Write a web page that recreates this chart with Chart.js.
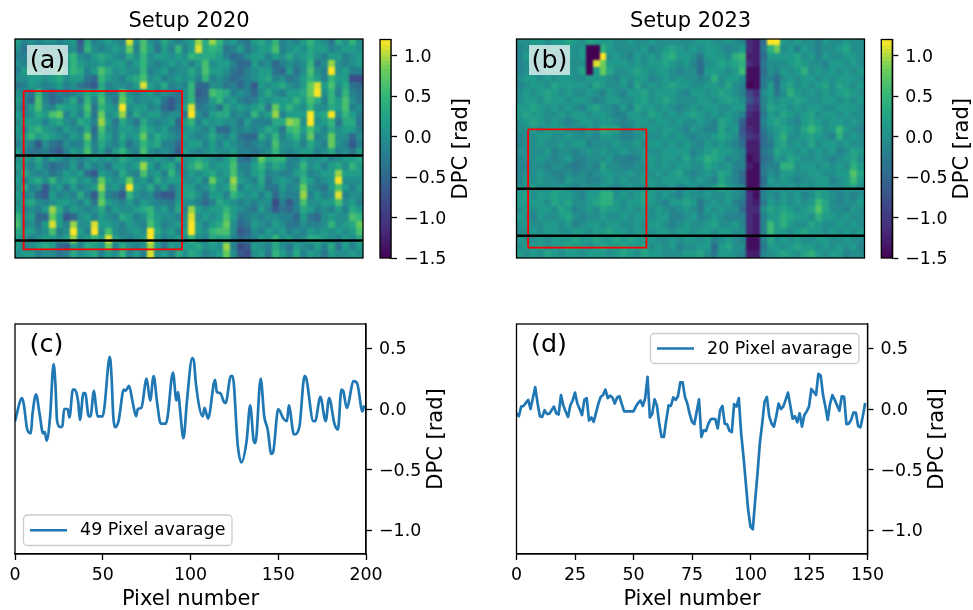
<!DOCTYPE html>
<html>
<head>
<meta charset="utf-8">
<title>Setup 2020 / Setup 2023</title>
<script src="https://cdn.jsdelivr.net/npm/chart.js@4"></script>
<style>
  html, body { margin: 0; padding: 0; background: #fff; }
  body { width: 973px; height: 610px; position: relative; overflow: hidden; }
  canvas { position: absolute; }
</style>
</head>
<body>
<canvas id="heatA" style="left:0;top:0" width="372" height="290"></canvas>
<canvas id="barA" style="left:372px;top:0" width="110" height="290"></canvas>
<canvas id="heatB" style="left:500px;top:0" width="372" height="290"></canvas>
<canvas id="barB" style="left:873px;top:0" width="100" height="290"></canvas>
<canvas id="lineC" style="left:0;top:300px" width="480" height="310"></canvas>
<canvas id="lineD" style="left:500px;top:300px" width="473" height="310"></canvas>
<script>
// ---------- Data ----------
// heat maps: one row per band from top to bottom, coarse readings (see unit below)
const dpcA = [
[1,-1,0,-1,0,0,-1,0,1,-4,2,-1,0,1,0,-1,7,0,4,0,-1,2,0,-1,0,1,6,2,6,3,0,1,-1,-2,1,2,0,3,-1,0,-1,1,3,1,0,-2,2,0,3,0],
[0,-2,0,0,-1,0,0,-1,0,-3,3,0,-1,0,1,0,5,-1,4,1,-2,1,-1,3,-1,1,7,2,3,2,-2,-1,1,-2,0,1,1,4,-1,0,1,0,2,1,1,-1,0,1,1,0],
[-1,-1,0,1,1,0,-1,1,3,0,-1,1,2,1,0,-1,2,0,3,0,1,1,0,1,0,3,2,2,2,1,-1,-3,-2,0,1,1,-1,1,0,2,0,1,2,0,-1,1,1,-1,0,1],
[0,-1,1,0,2,0,1,0,3,1,0,0,1,0,1,1,-1,1,3,0,-1,0,1,0,1,-1,1,4,0,1,1,-1,-3,-3,1,-1,0,-3,-1,0,-1,0,3,-2,0,6,0,-1,0,1],
[-1,1,2,1,0,1,3,1,3,2,-1,1,4,2,0,1,0,0,3,-1,0,1,-1,0,0,2,0,4,1,1,0,-2,-3,-1,0,1,1,-2,-3,1,-2,0,4,0,-1,8,0,1,-1,-1],
[0,0,1,1,0,1,2,0,1,1,-2,-3,3,1,0,-1,1,2,4,0,1,-1,0,1,0,1,-1,3,-1,0,-1,-3,-2,-1,0,1,2,-1,0,-2,-1,1,3,1,-1,3,1,1,-5,-5],
[-2,-1,1,0,-1,0,1,-1,0,-2,-3,-4,2,-1,0,0,-1,1,7,1,0,2,-1,0,-1,3,-3,-3,0,0,-2,-1,-3,-1,-4,1,0,1,2,0,-1,1,5,7,1,4,0,2,-2,-3],
[0,-1,-2,3,-1,-3,-1,-2,-1,0,2,1,3,-1,-1,4,0,-1,0,1,-1,0,-1,-2,0,3,-4,-3,4,3,2,-1,0,-1,-3,0,2,0,-1,1,1,2,5,9,0,3,-1,3,-1,-2],
[1,-1,-3,4,-1,-3,-2,0,2,-2,3,-1,4,0,-2,5,1,-1,0,0,1,-2,-4,-2,0,3,-3,-2,1,3,0,1,-1,-2,-1,1,0,1,1,1,3,1,4,2,-1,3,1,4,0,-2],
[0,-2,1,4,0,-1,2,1,1,0,4,-2,3,1,0,10,0,1,1,-1,0,-3,-4,-1,1,7,-2,-1,0,-2,2,0,1,0,1,2,-2,5,1,3,1,0,3,0,0,2,1,4,-1,0],
[1,-1,0,2,1,4,5,-1,1,-1,3,-2,5,0,1,6,-1,2,0,1,1,-1,0,0,-2,9,0,-2,1,2,2,-1,0,-1,3,0,1,6,-1,1,1,1,10,1,2,8,0,3,1,-1],
[0,1,1,1,-1,1,2,0,-1,2,1,-1,6,1,-2,2,0,-2,2,0,-1,0,1,-3,1,3,-1,1,0,1,0,0,-2,1,-1,-1,-1,2,2,6,5,0,10,0,1,3,-2,2,2,-2],
[1,-1,2,3,1,0,-1,1,0,-1,2,-3,4,0,-1,1,1,0,3,1,0,1,-1,-2,0,1,0,-1,1,-3,-3,0,-1,0,-1,0,2,1,-2,3,4,1,4,1,-1,2,0,1,1,-1],
[0,1,3,1,2,1,0,-1,1,0,5,-2,3,1,-1,2,0,1,5,0,2,1,0,-1,1,0,-1,0,2,0,-1,1,-2,-3,-3,2,0,3,-1,1,3,0,5,-1,0,5,0,0,-3,0],
[-1,0,-1,-4,0,-2,-3,0,-1,-1,3,-1,2,0,-1,1,-2,0,3,1,2,-1,-1,-3,0,1,1,-1,1,-1,1,0,-1,-2,-1,0,-1,4,0,0,1,-1,2,0,-1,5,0,-1,-4,-1],
[1,-1,-2,-2,-1,-3,-4,-1,1,0,4,-1,1,-2,1,3,0,-1,4,0,-1,0,-1,-4,1,0,-1,0,1,0,0,1,-1,-1,-2,-1,0,3,0,-1,0,1,1,-1,0,2,-1,0,-2,1],
[0,1,0,2,-1,1,0,-1,0,-1,0,1,0,1,0,2,1,0,1,0,1,0,-1,2,0,1,2,1,0,-1,1,3,-2,-3,0,5,2,3,3,-1,-1,1,0,0,1,-1,0,1,1,2],
[1,0,-1,1,-1,-3,-2,-1,1,-2,1,-1,0,-2,1,1,0,1,6,1,-1,1,2,-1,0,2,4,2,0,1,1,4,-1,-1,1,3,0,2,1,-1,0,3,0,1,-1,1,2,0,3,1],
[0,2,0,-1,0,-2,-1,1,0,1,-3,-4,1,0,-1,2,0,-1,4,0,1,-1,3,0,-1,1,0,1,2,0,1,4,0,-1,1,2,-1,0,-1,-1,1,2,-1,0,1,1,6,1,1,1],
[1,-1,1,2,0,3,0,1,2,0,1,-1,5,1,0,1,5,0,1,-1,2,0,1,1,0,0,1,-1,5,1,0,6,1,0,-1,2,-2,0,1,0,-1,3,1,-1,0,1,8,0,0,0],
[0,2,-1,0,-4,0,1,-2,1,-1,0,1,6,0,1,-1,9,1,0,2,-1,1,-2,0,1,1,-1,0,2,0,1,5,-1,1,0,1,-2,-2,1,-1,0,5,0,-1,-2,1,4,1,-1,1],
[1,-1,0,-3,-4,1,-1,0,-1,2,-1,-4,4,-1,-2,-4,3,0,-1,0,-3,-4,-4,0,1,2,0,-2,1,1,-1,3,1,0,1,-1,1,-3,0,-1,-1,6,-1,1,-1,0,7,-1,0,0],
[0,1,2,0,-1,0,1,1,0,-1,1,-2,5,1,0,-1,1,-1,1,0,-1,-1,-2,1,0,0,-1,-3,-1,2,1,0,-1,0,-1,0,0,-5,-1,-4,-1,4,0,0,1,1,4,0,1,-1],
[1,-1,0,-1,1,6,2,-1,1,0,-1,0,2,-1,1,0,0,1,2,3,0,1,-1,2,-1,6,1,0,1,1,3,1,0,-1,-2,1,-1,-4,-2,-3,-1,2,1,-1,0,-1,1,-1,2,1],
[3,0,1,-3,-3,5,1,-4,-3,0,1,-1,1,0,-1,2,1,-1,0,3,1,0,0,-1,0,7,0,1,0,1,4,1,-2,-1,0,-1,0,0,-1,-1,-3,1,-2,-3,0,1,0,0,4,3],
[4,-1,0,-2,1,7,1,-1,6,0,0,7,1,1,0,-1,1,0,-1,4,1,-1,0,1,0,9,1,-1,1,2,5,0,-3,-2,1,0,-1,1,0,-2,-2,0,-1,-1,0,3,0,1,2,5],
[2,1,1,-1,0,4,-1,0,8,1,-1,9,0,4,0,-1,0,1,0,9,2,0,1,-1,1,8,1,0,3,4,4,0,-4,-3,0,-1,1,0,1,-1,0,-1,1,0,1,0,1,0,1,4],
[1,0,-1,0,1,1,0,1,6,0,1,3,1,7,1,0,-1,0,1,8,1,-1,0,1,0,3,0,-1,2,1,2,-1,-3,-2,-1,1,0,3,0,1,-1,0,2,2,1,0,-1,1,0,2],
[1,-1,0,1,2,1,-3,-4,1,-1,2,1,0,5,-1,2,0,-1,0,6,1,-2,1,0,1,1,2,0,1,0,6,-1,-5,-4,1,0,-1,2,0,-2,1,0,-1,1,-1,2,-2,1,-1,1],
[0,1,1,-1,0,0,-2,-1,2,0,1,2,-1,1,0,3,-1,1,-1,7,0,1,-1,2,0,2,1,-1,0,1,5,0,-4,-5,0,1,-2,3,1,-1,2,-1,1,0,-2,1,0,0,1,0]
];
const dpcB = [
[0,0,1,1,0,1,1,2,1,0,2,1,1,1,0,0,1,0,0,1,0,0,0,0,0,0,1,1,0,0,1,0,-1,-8,-9,-3,12,10,1,0,1,0,0,-1,1,0,0,1,0,0],
[-1,0,1,1,0,1,0,1,0,1,-15,-15,3,1,0,0,0,0,1,-1,0,1,2,1,0,1,0,1,1,0,-1,0,1,-8,-9,-2,3,6,0,1,-1,1,0,-1,0,0,1,2,0,0],
[-1,1,1,1,0,0,0,1,0,1,-15,-14,9,0,1,0,-1,1,0,1,0,2,3,1,1,0,-2,1,1,1,0,3,4,-9,-9,-3,1,1,1,1,2,0,1,-1,1,0,0,1,1,0],
[-1,0,1,0,1,0,-1,0,0,0,-16,8,6,1,1,1,0,1,0,1,1,2,1,0,1,-1,-3,0,1,2,1,2,3,-8,-9,-2,0,0,0,1,2,1,0,0,-1,1,1,0,1,0],
[-1,0,1,0,1,1,0,1,0,2,-13,1,6,2,0,0,1,2,1,0,1,1,0,-1,0,0,-3,1,1,1,0,1,4,-10,-10,-3,0,-1,1,0,1,3,0,1,0,1,0,1,0,1],
[0,1,1,0,1,0,1,1,0,0,1,1,1,0,-1,1,0,1,1,-1,0,1,0,1,0,0,-1,0,3,0,1,1,0,-10,-10,-2,-1,-3,0,1,0,1,1,0,1,0,1,1,1,0],
[-1,0,1,1,0,2,1,1,1,1,0,2,1,0,0,1,-1,2,0,1,0,1,2,1,1,0,0,1,1,0,2,0,-1,-12,-10,-2,1,-3,1,2,0,1,0,1,2,0,2,1,0,1],
[0,1,0,1,2,1,0,1,0,0,1,0,-1,1,0,-1,1,1,2,0,1,1,1,0,-1,1,1,0,1,2,1,0,-1,-6,-8,0,1,-2,0,3,1,0,1,0,1,0,1,2,1,0],
[0,1,1,0,2,1,1,0,1,1,0,-1,0,1,1,0,0,1,2,0,1,2,1,0,0,0,1,1,0,1,2,1,0,-5,-7,-1,1,0,1,1,2,1,0,0,1,1,0,1,0,1],
[1,1,2,1,0,1,0,1,0,-1,1,2,0,0,-1,1,-1,2,1,1,0,1,0,-1,0,1,0,1,1,0,0,1,1,-7,-8,-1,2,1,1,0,1,0,1,1,0,0,1,1,1,0],
[1,2,1,1,0,0,1,0,1,1,0,1,1,0,-1,-1,1,1,0,2,1,0,1,0,1,2,1,0,1,0,1,0,-1,-8,-9,-2,1,0,2,1,0,1,2,0,1,1,0,1,0,0],
[0,1,2,1,0,1,0,-1,0,1,1,0,1,1,0,-1,0,1,1,0,1,1,0,1,0,0,1,0,-1,2,1,0,-4,-9,-9,-1,1,2,1,0,-1,1,2,1,0,1,1,0,1,0],
[0,0,1,0,1,1,1,0,0,-1,1,0,3,2,2,-1,-1,1,0,1,0,1,1,0,-1,1,0,-1,-1,2,0,1,-5,-8,-9,-2,0,1,2,1,0,2,4,2,0,1,4,1,0,-1],
[-1,0,0,1,1,0,0,1,0,0,0,-1,1,1,0,-1,-1,0,1,0,0,1,0,1,0,-1,0,0,1,2,1,0,-4,-7,-8,-3,-1,1,3,0,0,1,2,1,0,-1,3,0,1,0],
[-1,0,0,1,0,0,1,0,1,1,-1,0,0,0,1,0,0,1,0,1,1,0,1,0,1,0,-1,1,0,1,0,-1,-3,-9,-9,-3,-2,1,2,0,1,0,2,0,1,1,0,1,0,0],
[0,0,0,0,1,-1,0,0,-1,0,1,0,1,0,0,1,0,0,1,0,0,1,1,1,1,-1,0,1,2,1,1,0,-1,-9,-9,-2,-1,2,1,1,0,1,0,1,0,1,-1,0,2,1],
[-1,0,0,1,0,-1,0,1,-1,-1,0,0,0,1,-1,-1,-2,-1,1,1,0,1,1,0,2,0,1,3,2,1,-1,0,-1,-10,-9,-3,-2,1,0,2,1,0,0,1,0,-1,0,1,2,0],
[-1,-1,0,0,-1,0,0,-1,-2,-1,0,-1,2,0,0,-1,-1,0,0,1,0,1,0,1,1,0,0,2,1,0,1,-1,-1,-9,-10,-2,-1,-1,3,3,0,1,1,0,1,0,1,0,3,1],
[-1,0,0,1,0,-1,-1,0,-1,0,-1,0,1,1,0,0,1,0,1,0,1,0,1,2,0,-1,0,1,0,2,1,-1,-3,-10,-10,-2,0,-1,1,1,0,0,1,1,0,0,1,1,5,2],
[-1,1,0,1,0,0,-1,1,0,0,-1,-1,0,1,0,1,0,0,1,1,0,1,1,1,1,0,1,0,-1,2,0,-1,-3,-10,-10,-3,1,0,1,0,-1,0,0,1,1,-1,0,1,4,1],
[0,0,1,0,0,0,1,0,-1,0,0,0,1,0,-1,0,1,0,0,1,0,0,1,-1,0,1,-1,0,1,3,1,0,-1,-10,-10,-2,0,1,0,1,0,1,0,1,1,0,0,1,2,0],
[1,2,0,1,1,2,1,1,0,-1,1,1,3,3,0,1,0,1,2,1,0,1,0,-1,1,0,0,1,0,0,1,0,-1,-8,-10,-1,0,-1,1,0,1,-1,0,2,1,0,-1,0,-1,0],
[1,1,1,1,0,2,1,2,0,0,1,2,3,3,1,0,1,1,2,1,0,-1,1,1,2,1,-2,0,1,0,1,-1,-2,-8,-9,-2,1,0,1,0,1,0,1,4,2,0,-1,0,0,1],
[0,1,0,1,1,0,2,1,-1,0,1,0,2,1,1,0,1,0,1,0,1,0,-1,0,1,0,-2,1,0,1,0,0,-3,-8,-8,0,2,1,2,1,0,1,2,5,2,0,0,-1,1,0],
[1,0,-1,1,0,0,1,2,0,-1,0,0,1,0,0,1,0,1,1,0,1,1,-1,-1,0,1,-1,0,1,0,-1,-1,-1,-8,-9,-1,1,1,3,2,1,1,0,3,1,1,0,1,0,0],
[0,1,0,0,1,1,0,1,-1,0,1,1,0,1,1,0,0,1,0,1,1,0,-1,0,1,0,0,1,2,0,0,1,-1,-8,-9,-1,4,1,3,1,0,0,2,1,0,0,1,0,1,0],
[0,0,1,0,1,1,0,0,1,1,0,1,1,2,1,1,0,1,1,0,1,1,0,1,1,0,1,1,0,1,1,0,0,-8,-9,-1,4,1,1,0,1,2,1,1,0,1,0,1,0,1],
[1,0,0,1,0,1,1,1,2,1,1,2,1,1,2,1,2,1,1,1,0,0,1,0,1,1,0,1,-1,0,1,0,-1,-10,-10,-1,2,0,1,0,1,0,0,1,1,0,0,1,0,0],
[0,1,1,1,0,1,1,2,1,1,0,1,2,1,1,2,1,1,2,0,1,0,1,-1,0,0,1,1,-3,1,2,0,0,-10,-10,-2,1,1,0,1,2,1,1,0,1,0,1,0,1,-1],
[1,0,1,0,2,1,0,1,1,0,1,1,1,0,1,2,1,0,2,1,1,0,0,0,1,1,2,0,-2,1,1,0,-1,-9,-9,-1,0,1,2,1,0,2,3,1,0,1,1,-1,0,0]
];

// colour bar levels, rad
const barLevels = [-1.5,-1.45,-1.4,-1.35,-1.3,-1.25,-1.2,-1.15,-1.1,-1.05,-1,-0.95,-0.9,-0.85,-0.8,-0.75,-0.7,-0.65,-0.6,-0.55,-0.5,-0.45,-0.4,-0.35,-0.3,-0.25,-0.2,-0.15,-0.1,-0.05,0,0.05,0.1,0.15,0.2,0.25,0.3,0.35,0.4,0.45,0.5,0.55,0.6,0.65,0.7,0.75,0.8,0.85,0.9,0.95,1,1.05,1.1,1.15];
const barTicks = [-1.5,-1,-0.5,0,0.5,1];

// profile (c), 49 pixel average
const profileCx = [0,4,5,7,9,10,12,14,16,17,18,20,22,23,24,26,27,28,30,31,33,34,36,37,39,40,42,43,45,46,47,50,51,54,55,56,57,59,62,63,65,67,69,70,72,75,77,79,81,83,86,87,90,92,93,94,96,98,101,102,103,107,108,110,114,115,117,119,120,123,124,127,129,132,134,136,137,140,142,144,146,147,150,153,155,156,159,162,165,166,170,171,174,177,179,182,184,186,187,189,193,195,198,199];
const profileCy = [-0.1,0.09,0.04,-0.17,-0.2,-0.04,0.12,-0.04,-0.2,-0.19,-0.26,-0.06,0.37,0.21,-0.1,-0.15,-0.14,0,0,-0.07,0.16,0.16,0.06,-0.09,0.13,0.13,-0.06,-0.06,0.15,0.04,-0.06,-0.06,0.02,0.43,0.27,-0.06,-0.15,-0.1,0.16,0.15,0.19,0.06,-0.06,0,0.01,0.25,0.07,0.27,0.05,-0.12,-0.12,-0.06,0.3,0.07,0.14,0,-0.24,0.07,0.42,0.39,0.22,-0.06,0.01,-0.08,0.24,0.14,0.13,0.06,0.05,0.27,0.27,-0.31,-0.44,-0.26,0.03,-0.26,-0.28,0.25,-0.06,-0.17,-0.37,-0.36,0,-0.08,-0.1,0.03,-0.21,-0.15,0.27,0.25,-0.1,-0.1,0.1,-0.1,0.09,-0.12,-0.17,0.16,0.15,0.01,0.23,0.21,-0.02,0.03];

// profile (d), 20 pixel average, one value per pixel
const profileDy = [-0.035,-0.06,0.02,0.025,0.05,0.075,0,0.09,0.18,0.05,-0.06,-0.065,-0.01,-0.04,-0.04,-0.01,0.02,-0.035,-0.045,0.115,0.03,-0.02,-0.065,0.03,0.07,0.135,0.045,0,-0.05,0.075,0.09,-0.095,-0.07,-0.105,-0.03,0.045,0.1,0.115,0.16,0.09,0.11,0.095,0.045,0.095,0.105,0.04,-0.02,-0.02,-0.02,-0.02,-0.02,0.02,0.05,0.07,0.025,0.09,0.265,-0.07,-0.04,0.08,0.03,-0.12,-0.23,-0.23,-0.09,0.03,0.025,0.095,0.075,0.105,0.22,0.22,0.1,0.045,-0.04,-0.105,-0.125,-0.02,0.08,-0.23,-0.175,-0.18,-0.12,-0.085,-0.08,-0.085,-0.16,-0.01,0.025,-0.12,-0.125,-0.18,-0.19,0.04,0.02,0.09,-0.2,-0.39,-0.61,-0.83,-0.97,-0.99,-0.75,-0.53,-0.28,-0.12,0.06,0.1,-0.06,-0.12,-0.145,-0.06,0.045,0,0.02,0.075,0.135,0.03,-0.08,-0.06,-0.11,-0.035,-0.145,-0.05,-0.02,0.02,0.165,0.14,0.115,0.29,0.275,0.115,0.02,-0.09,0.045,0.115,0.075,0.03,-0.015,0.105,0.1,-0.125,-0.12,-0.09,-0.03,-0.03,-0.14,-0.15,-0.06,0.05];
const profileDx = [0,1,2,3,4,5,6,7,8,9,10,11,12,13,14,15,16,17,18,19,20,21,22,23,24,25,26,27,28,29,30,31,32,33,34,35,36,37,38,39,40,41,42,43,44,45,46,47,48,49,50,51,52,53,54,55,56,57,58,59,60,61,62,63,64,65,66,67,68,69,70,71,72,73,74,75,76,77,78,79,80,81,82,83,84,85,86,87,88,89,90,91,92,93,94,95,96,97,98,99,100,101,102,103,104,105,106,107,108,109,110,111,112,113,114,115,116,117,118,119,120,121,122,123,124,125,126,127,128,129,130,131,132,133,134,135,136,137,138,139,140,141,142,143,144,145,146,147,148,149];

const dpcTicks = [-1,-0.5,0,0.5];
const ticksC = [0,50,100,150,200];
const ticksD = [0,25,50,75,100,125,150];

// rad per unit of the coarse heat map readings above
const unitA = 0.16;
const unitB = 0.14;

// ---------- Colours and helpers ----------
const FONT = "'DejaVu Sans'";
const VIRIDIS = ["#440154","#482878","#3e4989","#31688e","#26828e","#1f9e89","#35b779","#6ece58","#fde725"];
const LINE_BLUE = "#1f77b4";

function hexRgb(h) {
  return [1, 3, 5].map(i => parseInt(h.slice(i, i + 2), 16));
}

function viridis(v) {
  const t = Math.min(1, Math.max(0, (v + 1.5) / 2.7)) * (VIRIDIS.length - 1);
  const i = Math.min(VIRIDIS.length - 2, Math.floor(t));
  const a = hexRgb(VIRIDIS[i]), b = hexRgb(VIRIDIS[i + 1]);
  const c = a.map((x, k) => Math.round(x + (b[k] - x) * (t - i)));
  return `rgb(${c[0]},${c[1]},${c[2]})`;
}

// filled block used as point style, so the cell goes through the scales
const sprites = {};
function cellSprite(v, w, h) {
  const key = `${v}|${w}|${h}`;
  if (!sprites[key]) {
    const c = document.createElement("canvas");
    c.width = w; c.height = h;
    const g = c.getContext("2d");
    g.fillStyle = viridis(v);
    g.fillRect(0, 0, w, h);
    sprites[key] = c;
  }
  return sprites[key];
}

function fmtTick(v) {
  return (v < 0 ? "\u2212" : "") + Math.abs(v).toFixed(1);
}

// the picture is an interpolated image: soften the heat cells once they are drawn
const soften = {
  id: "soften",
  afterDatasetDraw(chart, args) {
    if (args.index !== 0) return;
    const { ctx, chartArea: a } = chart;
    ctx.save();
    ctx.beginPath();
    ctx.rect(a.left, a.top, a.right - a.left, a.bottom - a.top);
    ctx.clip();
    ctx.filter = "blur(1.2px)";
    ctx.drawImage(chart.canvas, 0, 0);
    ctx.restore();
  }
};

// panel letter, frame, tick labels, rotated axis label and legend box
const decor = {
  id: "decor",
  afterDraw(chart, args, o) {
    const { ctx, chartArea: a } = chart;
    ctx.save();
    ctx.strokeStyle = "#000";
    ctx.lineWidth = 1.3;
    ctx.strokeRect(a.left, a.top, a.right - a.left, a.bottom - a.top);
    ctx.fillStyle = "#000";
    ctx.textBaseline = "middle";
    if (o.letter) {
      const l = o.letter;
      if (l.box) {
        ctx.fillStyle = "rgba(255,255,255,0.7)";
        ctx.fillRect(l.box[0], l.box[1], l.box[2], l.box[3]);
      }
      ctx.fillStyle = "#000";
      ctx.font = `25.4px ${FONT}`;
      ctx.textAlign = "center";
      ctx.fillText(l.text, l.x, l.y);
    }
    if (o.sideTicks) {
      ctx.font = `17.4px ${FONT}`;
      ctx.textAlign = "left";
      o.sideTicks.forEach(v => {
        ctx.fillText(fmtTick(v), a.right + 13, chart.scales.y.getPixelForValue(v) + 1.5);
      });
    }
    if (o.sideLabel) {
      ctx.save();
      ctx.translate(o.sideLabel.x, (a.top + a.bottom) / 2);
      ctx.rotate(-Math.PI / 2);
      ctx.font = `21px ${FONT}`;
      ctx.textAlign = "center";
      ctx.fillText("DPC [rad]", 0, 0);
      ctx.restore();
    }
    if (o.legend) {
      const b = o.legend;
      ctx.beginPath();
      ctx.roundRect(b.x, b.y, b.w, b.h, 4);
      ctx.fillStyle = "rgba(255,255,255,0.8)";
      ctx.fill();
      ctx.strokeStyle = "#cccccc";
      ctx.lineWidth = 1.3;
      ctx.stroke();
      const ly = b.y + b.h / 2;
      ctx.strokeStyle = LINE_BLUE;
      ctx.lineWidth = 2.7;
      ctx.beginPath();
      ctx.moveTo(b.x + 6.5, ly);
      ctx.lineTo(b.x + 43.5, ly);
      ctx.stroke();
      ctx.fillStyle = "#000";
      ctx.font = `17.5px ${FONT}`;
      ctx.textAlign = "left";
      ctx.fillText(chart.data.datasets[0].label, b.x + 56.5, ly + 0.5);
    }
    ctx.restore();
  }
};

function heatPoints(rows, cellX, cellY, unit) {
  const pts = [];
  rows.forEach((row, r) => row.forEach((v, c) => {
    pts.push({ x: (c + 0.5) * cellX, y: (r + 0.5) * cellY, v: v * unit });
  }));
  return pts;
}

function rectPath(x0, x1, y0, y1) {
  return [{ x: x0, y: y0 }, { x: x1, y: y0 }, { x: x1, y: y1 }, { x: x0, y: y1 }, { x: x0, y: y0 }];
}

// ---------- Heat map panels ----------
function heatChart(id, cfg) {
  const canvas = document.getElementById(id);
  const cols = cfg.rows[0].length, nRows = cfg.rows.length;
  const spriteW = Math.ceil(348 / cols) + 1, spriteH = Math.ceil(219 / nRows) + 1;
  const hLine = y => ({
    data: [{ x: 0, y }, { x: cfg.xMax, y }], showLine: true, pointRadius: 0,
    borderColor: "#000", borderWidth: 2.5, order: 1
  });
  new Chart(canvas, {
    type: "scatter",
    data: {
      datasets: [
        {
          data: heatPoints(cfg.rows, cfg.xMax / cols, cfg.yMax / nRows, cfg.unit),
          order: 3, clip: 0, showLine: false,
          pointRadius: 1, borderWidth: 0,
          pointStyle: ctx => cellSprite(ctx.raw.v, spriteW, spriteH)
        },
        {
          data: rectPath(...cfg.box), showLine: true, pointRadius: 0,
          borderColor: "#ff0000", borderWidth: 1.8, order: 2
        },
        hLine(cfg.lines[0]),
        hLine(cfg.lines[1])
      ]
    },
    options: {
      responsive: false, animation: false, events: [],
      layout: { padding: { left: cfg.left, right: canvas.width - cfg.left - 348, top: 9, bottom: canvas.height - 258 } },
      scales: {
        x: { display: false, min: 0, max: cfg.xMax },
        y: { display: false, min: 0, max: cfg.yMax, reverse: true }
      },
      plugins: {
        legend: { display: false },
        tooltip: { enabled: false },
        title: { display: true, text: cfg.title, color: "#000", padding: { top: 0, bottom: 4.8 }, font: { family: FONT, size: 21, weight: "normal", lineHeight: 1.2 } },
        decor: { letter: cfg.letter }
      }
    },
    plugins: [soften, decor]
  });
}

heatChart("heatA", {
  rows: dpcA, unit: unitA, xMax: 200, yMax: 126, left: 15, title: "Setup 2020",
  box: [5, 96, 30, 121], lines: [67, 116],
  letter: { text: "(a)", x: 47.5, y: 61, box: [27, 45, 41, 30] }
});
heatChart("heatB", {
  rows: dpcB, unit: unitB, xMax: 150, yMax: 94.5, left: 16.5, title: "Setup 2023",
  box: [5, 56, 39, 90], lines: [64.6, 84.9],
  letter: { text: "(b)", x: 49.5, y: 61, box: [29, 45, 41, 30] }
});

// ---------- Colour bars ----------
function barChart(id, left, labelX) {
  const canvas = document.getElementById(id);
  new Chart(canvas, {
    type: "scatter",
    data: {
      datasets: [{
        data: barLevels.map(v => ({ x: 0, y: v + 0.025, v })),
        clip: 0, showLine: false, pointRadius: 1, borderWidth: 0,
        pointStyle: ctx => cellSprite(ctx.raw.v + 0.025, 13, 6)
      }]
    },
    options: {
      responsive: false, animation: false, events: [],
      layout: { padding: { left, top: 39.5, bottom: canvas.height - 258 } },
      scales: {
        x: { display: false, min: -1, max: 1 },
        y: {
          position: "right", min: -1.5, max: 1.2,
          afterFit: s => { s.width = canvas.width - left - 11; },
          afterBuildTicks: s => { s.ticks = barTicks.map(value => ({ value })); },
          grid: { drawOnChartArea: false, tickLength: 6, tickColor: "#000", tickWidth: 1.3 },
          border: { color: "#000", width: 1.3 },
          ticks: { display: false }
        }
      },
      plugins: {
        legend: { display: false }, tooltip: { enabled: false }, title: { display: false },
        decor: { sideTicks: barTicks, sideLabel: { x: labelX } }
      }
    },
    plugins: [decor]
  });
}
barChart("barA", 8, 89.5);
barChart("barB", 8.3, 89.5);

// ---------- Profile panels ----------
function profileChart(id, cfg) {
  const canvas = document.getElementById(id);
  new Chart(canvas, {
    type: "scatter",
    data: {
      datasets: [{
        label: cfg.label,
        data: cfg.xs.map((x, i) => ({ x, y: cfg.ys[i] })),
        showLine: true, pointRadius: 0,
        cubicInterpolationMode: cfg.rounded ? "monotone" : "default",
        borderColor: LINE_BLUE, borderWidth: 2.7, borderJoinStyle: "round"
      }]
    },
    options: {
      responsive: false, animation: false, events: [],
      layout: { padding: { left: cfg.left, top: 24 } },
      scales: {
        x: {
          min: 0, max: cfg.ticks[cfg.ticks.length - 1],
          afterFit: s => { s.height = 56; },
          afterBuildTicks: s => { s.ticks = cfg.ticks.map(value => ({ value })); },
          grid: { drawOnChartArea: false, tickLength: 6, tickColor: "#000", tickWidth: 1.3 },
          border: { color: "#000", width: 1.3 },
          ticks: { color: "#000", padding: 5, maxRotation: 0, autoSkip: false, font: { family: FONT, size: 17.4 } },
          title: { display: true, text: "Pixel number", color: "#000", padding: 0, font: { family: FONT, size: 21, lineHeight: 1 } }
        },
        y: {
          position: "right", min: -1.194, max: 0.7,
          afterFit: s => { s.width = canvas.width - cfg.left - 351; },
          afterBuildTicks: s => { s.ticks = dpcTicks.map(value => ({ value })); },
          grid: { drawOnChartArea: false, tickLength: 6, tickColor: "#000", tickWidth: 1.3 },
          border: { color: "#000", width: 1.3 },
          ticks: { display: false }
        }
      },
      plugins: {
        legend: { display: false }, tooltip: { enabled: false }, title: { display: false },
        decor: { letter: cfg.letter, sideTicks: dpcTicks, sideLabel: { x: cfg.labelX }, legend: cfg.legendBox }
      }
    },
    plugins: [decor]
  });
}

profileChart("lineC", {
  xs: profileCx, ys: profileCy, ticks: ticksC, left: 15, label: "49 Pixel avarage", labelX: 436.5, rounded: true,
  letter: { text: "(c)", x: 46.5, y: 45.5 },
  legendBox: { x: 23.5, y: 215, w: 208.5, h: 30.5 }
});
profileChart("lineD", {
  xs: profileDx, ys: profileDy, ticks: ticksD, left: 16.5, label: "20 Pixel avarage", labelX: 438,
  letter: { text: "(d)", x: 49, y: 45.5 },
  legendBox: { x: 150.5, y: 33.5, w: 208.5, h: 30 }
});
</script>
</body>
</html>
